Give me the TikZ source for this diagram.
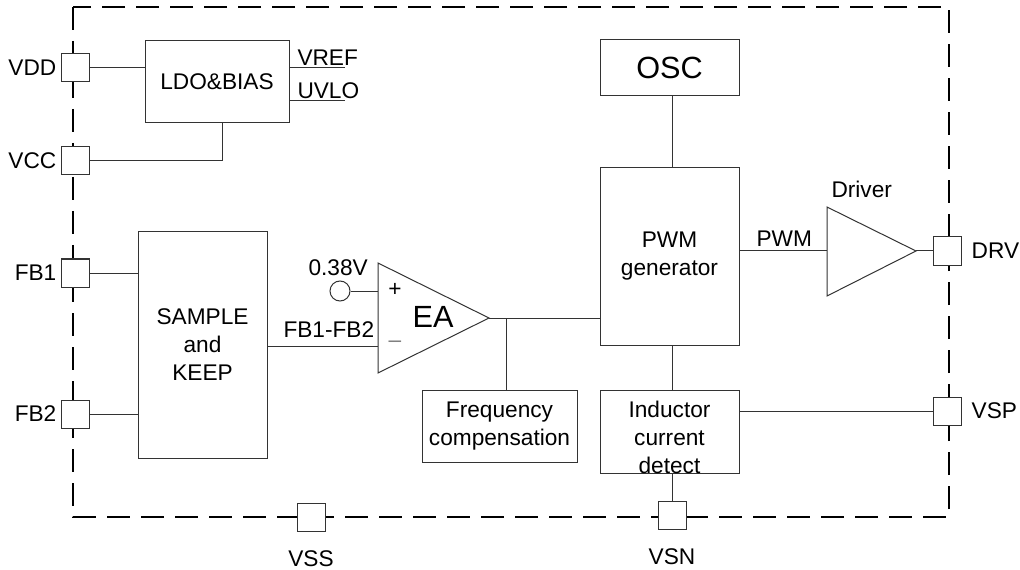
\documentclass[tikz,border=0pt]{standalone}
\usepackage{fontspec}
\setmainfont{Liberation Sans}
\usetikzlibrary{positioning,calc}
\tikzset{every picture/.style={line width=0.75pt}}
\tikzset{
  blk/.style={draw=black!80, fill=white, align=center, inner sep=0pt, font=\fontsize{17}{21}\selectfont},
  pinbox/.style={draw=black!80, fill=white, minimum size=21pt, inner sep=0pt},
  lbl/.style={inner sep=0.75pt, font=\fontsize{17}{21}\selectfont},
  biglbl/.style={inner sep=0.75pt, font=\fontsize{23}{27}\selectfont},
  wire/.style={draw=black!80, line width=0.75pt},
  chipedge/.style={line width=2pt, dash pattern=on 17pt off 8.5pt}
}

\begin{document}
\begin{tikzpicture}[x=0.75pt,y=0.75pt,yscale=-1,xscale=1]
\useasboundingbox (0,0) rectangle (1020,570);

%Shape: Dashed chip outline
\draw [chipedge] (73,7) rectangle (949,517) ;

%Shape: Blocks
\node [blk, minimum width=108pt, minimum height=61.5pt] (ldo) at (217,82) {LDO\&BIAS};
\node [blk, minimum width=104.25pt, minimum height=42pt, font=\fontsize{23}{27}\selectfont] (osc) at (669.5,68) {OSC};
\node [blk, minimum width=104.25pt, minimum height=132.75pt] (pwm) at (669.5,256.5) {PWM\\generator};
\node [blk, minimum width=104.25pt, minimum height=62.25pt] (icd) at (669.5,431.5) {};
\node [lbl, align=center] (icdlbl) at ($(icd)+(0,6)$) {Inductor\\current\\detect};
\node [blk, minimum width=116.25pt, minimum height=54pt] (fc) at (499.5,426) {Frequency\\compensation};
\node [blk, minimum width=96.75pt, minimum height=169.5pt] (sk) at (202.5,345) {SAMPLE\\and\\KEEP};

%Shape: Error amplifier
\coordinate (eaTop) at (378,263);
\coordinate (eaBot) at (378,373);
\coordinate (eaOut) at (489,318);
\coordinate (eaPlus) at (378,291);
\coordinate (eaMinus) at (378,346);
\draw [wire] (eaTop) -- (eaOut) -- (eaBot) -- cycle ;
\node [biglbl] (ealbl) at (433,317) {EA};
\node [lbl] (plus) at (395,290) {+};
\node [lbl, text=black!50] (minus) at (395,344) {--};

%Shape: Reference source
\node [draw=black!80, circle, minimum size=15pt, inner sep=0pt] (ref) at (340,291) {};

%Shape: Driver
\coordinate (drTop) at (827,207);
\coordinate (drBot) at (827,296);
\coordinate (drOut) at (916,251);
\coordinate (drIn) at (827,251);
\draw [wire] (drTop) -- (drOut) -- (drBot) -- cycle ;

%Shape: Pins
\node [pinbox] (vdd) at (75,68) {};
\node [pinbox] (vcc) at (75,161) {};
\node [pinbox] (fbone) at (75,273) {};
\node [pinbox] (fbtwo) at (75,414) {};
\node [pinbox] (vss) at (311,517) {};
\node [pinbox] (vsn) at (672,515) {};
\node [pinbox] (drv) at (947,251) {};
\node [pinbox] (vsp) at (947,411) {};

%Straight Lines
\coordinate (vref) at (345,68);
\coordinate (uvlo) at (345,101);
\coordinate (tap) at (506,318);
\draw [wire] (vdd.east) -- (vdd -| ldo.west) ;
\draw [wire] (vcc.east) -| ($(ldo.south)+(5,0)$) ;
\draw [wire] (ldo.east |- vref) -- (vref) ;
\draw [wire] (ldo.east |- uvlo) -- (uvlo) ;
\draw [wire] (fbone.east) -- (fbone -| sk.west) ;
\draw [wire] (fbtwo.east) -- (fbtwo -| sk.west) ;
\draw [wire] (sk.east |- eaMinus) -- (eaMinus) ;
\draw [wire] (ref.east) -- (eaPlus) ;
\draw [wire] (eaOut) -- (eaOut -| pwm.west) ;
\draw [wire] (tap) -- (tap |- fc.north) ;
\draw [wire] (osc.south -| vsn) -- (pwm.north -| vsn) ;
\draw [wire] (pwm.south -| vsn) -- (icd.north -| vsn) ;
\draw [wire] (icd.south -| vsn) -- (vsn.north) ;
\draw [wire] (icd.east |- vsp) -- (vsp.west) ;
\draw [wire] (pwm.east |- drIn) -- (drIn) ;
\draw [wire] (drOut) -- (drv.west) ;

% Text Node
\node [lbl, left=2pt of vdd] (vddlbl) {VDD};
\node [lbl, left=2pt of vcc] (vcclbl) {VCC};
\node [lbl, left=2pt of fbone] (fbonelbl) {FB1};
\node [lbl, left=2pt of fbtwo] (fbtwolbl) {FB2};
\node [lbl, below=13.5pt of vss] (vsslbl) {VSS};
\node [lbl, below=13.5pt of vsn] (vsnlbl) {VSN};
\node [lbl, right=6.5pt of drv] (drvlbl) {DRV};
\node [lbl, right=6.5pt of vsp] (vsplbl) {VSP};
\node [lbl, anchor=base west] (vreflbl) at (296,66) {VREF};
\node [lbl, anchor=base west] (uvlolbl) at (296,99) {UVLO};
\node [lbl, anchor=base west] (reflbl) at (307,275) {0.38V};
\node [lbl, anchor=base west] (fbdiff) at (282,337) {FB1-FB2};
\node [lbl, anchor=base west] (pwmlbl) at (755,247) {PWM};
\node [lbl, anchor=base west] (drvname) at (830,198) {Driver};

\end{tikzpicture}
\end{document}
